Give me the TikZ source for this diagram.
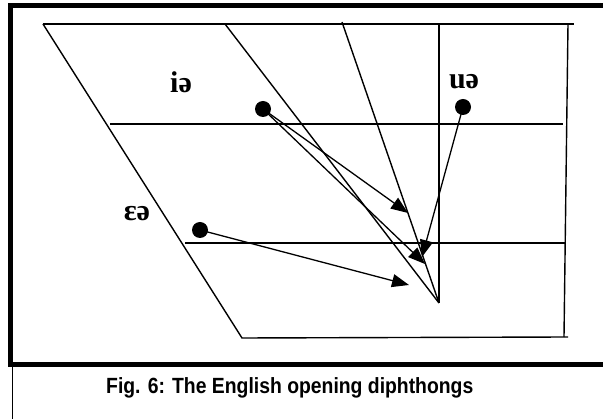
\documentclass[tikz,border=0pt]{standalone}
\usepackage{fontspec}
\setmainfont{Liberation Serif}
\newfontfamily\capfont{Liberation Sans}
\usetikzlibrary{arrows.meta}
\tikzset{
  chart/.style={line width=1.4pt, black},
  frame/.style={line width=5pt, black},
  dot/.style={circle, fill=black, minimum size=16pt, inner sep=0pt},
  lbl/.style={font=\fontsize{30}{30}\selectfont\bfseries, inner sep=0pt},
  arr/.style={line width=1.3pt, -{Triangle[length=17pt,width=13pt]}},
}
\begin{document}
\begin{tikzpicture}[x=1pt,y=-1pt]
\useasboundingbox (0,0) rectangle (603,419);
\clip (0,0) rectangle (603,419);
% frame
\draw[frame] (615,5.5) -- (10.5,5.5) -- (10.5,364.5) -- (615,364.5);
\draw[line width=1pt] (12,367) -- (12,419);
% chart coordinates
\coordinate (TL) at (43,24);
\coordinate (TR) at (574,24);
\coordinate (T2) at (225,24);
\coordinate (T3) at (342,22);
\coordinate (T4) at (439,24);
\coordinate (RT) at (568,24);
\coordinate (RB) at (564,337);
\coordinate (BL) at (242,338);
\coordinate (BR) at (568,337);
\coordinate (AP) at (439,303);
\coordinate (H1a) at (110,124);
\coordinate (H1b) at (563,124);
\coordinate (H2a) at (185,243);
\coordinate (H2b) at (565,243);
% chart lines
\draw[chart] (TL) -- (TR);
\draw[chart] (TL) -- (BL) -- (BR);
\draw[chart] (RT) -- (RB);
\draw[chart] (T2) -- (AP);
\draw[chart] (T3) -- (AP);
\draw[chart] (T4) -- (AP);
\draw[chart] (H1a) -- (H1b);
\draw[chart] (H2a) -- (H2b);
% labels
\node[lbl] (li) at (181,82) {iə};
\node[lbl] (lu) at (464,82) {uə};
\node[lbl] (le) at (137,214) {ɛə};
% dots
\node[dot] (di) at (263,109) {};
\node[dot] (du) at (463,107) {};
\node[dot] (de) at (200,230) {};
% arrow ends
\coordinate (e1) at (408,213);
\coordinate (e2) at (425,264);
\coordinate (e3) at (422,257);
\coordinate (e4) at (409,285);
\draw[arr] (di.center) -- (e1);
\draw[arr] (di.center) -- (e2);
\draw[arr] (du.center) -- (e3);
\draw[arr] (de.center) -- (e4);
% caption
\node[font=\capfont\fontsize{22}{22}\selectfont\bfseries, anchor=west, inner sep=0pt, xscale=0.88] (cap) at (106,388) {Fig. 6: The English opening diphthongs};
\end{tikzpicture}
\end{document}
